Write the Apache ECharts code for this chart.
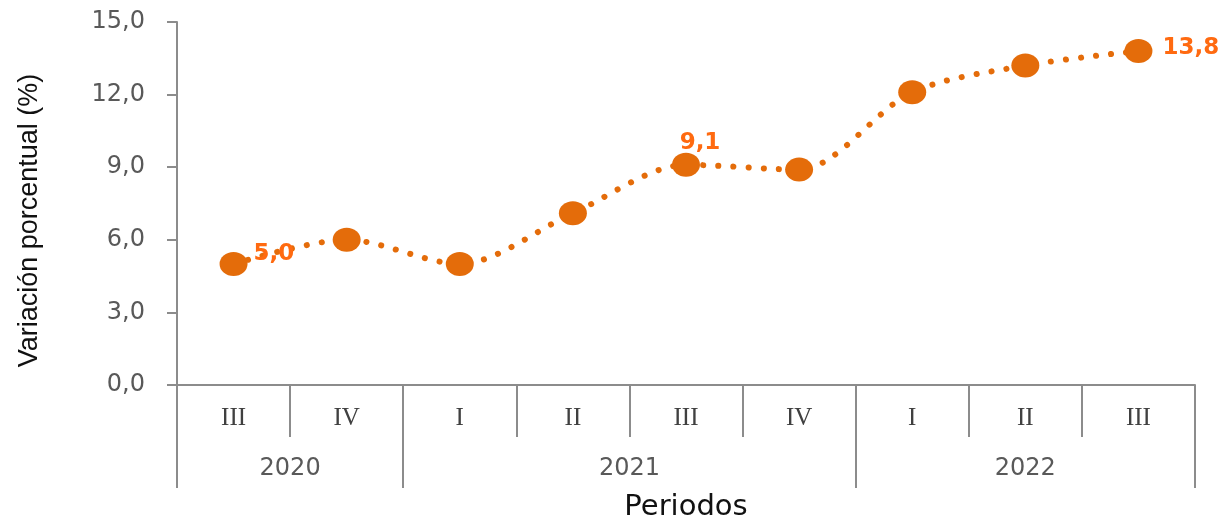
<!DOCTYPE html>
<html lang="es">
<head>
    <meta charset="UTF-8">
    <script src="https://cdn.jsdelivr.net/npm/echarts@6/dist/echarts.min.js"></script>
    <title>Variación porcentual</title>
    <style>
        html, body { margin: 0; padding: 0; background: #fff; }
        #chart { width: 1228px; height: 520px; }
    </style>
</head>
<body>
    <div id="chart"></div>
    <script>
        // datos
        const quarters = ['III', 'IV', 'I', 'II', 'III', 'IV', 'I', 'II', 'III'];
        const years = ['2020', '2021', '2022'];
        const yearBounds = [0, 2, 6, 9];      // limites de cada año en trimestres
        const yearCenters = [1, 4, 7.5];
        const values = [5.0, 6.0, 5.0, 7.1, 9.1, 8.9, 12.1, 13.2, 13.8];
        const labeled = { 0: 'right', 4: 'top', 8: 'right' };

        const orange = '#E46C0A';
        const axisGray = '#8c8c8c';

        function fmt(v) {
            return v.toFixed(1).replace('.', ',');
        }

        let seriesData = values.map(function (v, i) {
            let item = { value: v };
            if (labeled[i] !== undefined) {
                let pos = labeled[i];
                item.label = {
                    show: true,
                    position: pos,
                    distance: pos == 'top' ? 4 : (i == 0 ? 6 : 10),
                    offset: pos == 'top' ? [14, 6] : (i == 0 ? [0, -10] : [0, -3])
                };
            }
            return item;
        });

        let option = {
            backgroundColor: '#fff',
            animation: false,
            grid: { left: 177, right: 33, top: 22, bottom: 135, containLabel: false, outerBoundsMode: 'none' },
            xAxis: [{
                type: 'category',
                data: quarters,
                position: 'bottom',
                boundaryGap: true,
                axisLine: { show: true, lineStyle: { color: axisGray, width: 2 } },
                axisTick: { show: true, interval: 0, length: 52, lineStyle: { color: axisGray, width: 2 } },
                axisLabel: {
                    interval: 0, margin: 21,
                    fontFamily: 'Liberation Serif', fontSize: 25, color: '#404040'
                },
                splitLine: { show: false }
            }, {
                type: 'value',
                min: 0, max: 9,
                position: 'bottom',
                axisLine: { show: false },
                axisTick: {
                    show: true, length: 103, customValues: yearBounds,
                    lineStyle: { color: axisGray, width: 2 }
                },
                axisLabel: {
                    show: true, margin: 72, customValues: yearCenters,
                    fontFamily: 'DejaVu Sans', fontSize: 24, color: '#595959',
                    formatter: function (v) {
                        return years[yearCenters.indexOf(v)];
                    }
                },
                splitLine: { show: false },
                name: 'Periodos',
                nameLocation: 'middle',
                nameGap: 108,
                nameTextStyle: { fontFamily: 'DejaVu Sans', fontSize: 29, color: '#111' }
            }],
            yAxis: {
                type: 'value',
                min: 0, max: 15, interval: 3,
                axisLine: { show: true, lineStyle: { color: axisGray, width: 2 } },
                axisTick: { show: true, length: 10, lineStyle: { color: axisGray, width: 2 } },
                axisLabel: {
                    margin: 32, formatter: fmt,
                    fontFamily: 'DejaVu Sans', fontSize: 24, color: '#595959'
                },
                splitLine: { show: false },
                name: 'Variación porcentual (%)',
                nameLocation: 'middle',
                nameGap: 134,
                nameTextStyle: {
                    fontFamily: 'Liberation Sans', fontSize: 27, color: '#111',
                    padding: [0, 34, 0, 0]
                }
            },
            series: [{
                type: 'line',
                xAxisIndex: 0,
                data: seriesData,
                smooth: 0.3,
                symbol: 'circle',
                symbolSize: [28, 24],
                itemStyle: { color: orange },
                lineStyle: { color: orange, width: 6, type: [0.1, 15], cap: 'round' },
                label: {
                    show: false,
                    formatter: function (p) { return fmt(p.value); },
                    fontFamily: 'DejaVu Sans', fontWeight: 'bold', fontSize: 23, color: '#FF6A10'
                }
            }]
        };

        let myChart = echarts.init(document.getElementById('chart'));
        myChart.setOption(option);
    </script>
</body>
</html>
